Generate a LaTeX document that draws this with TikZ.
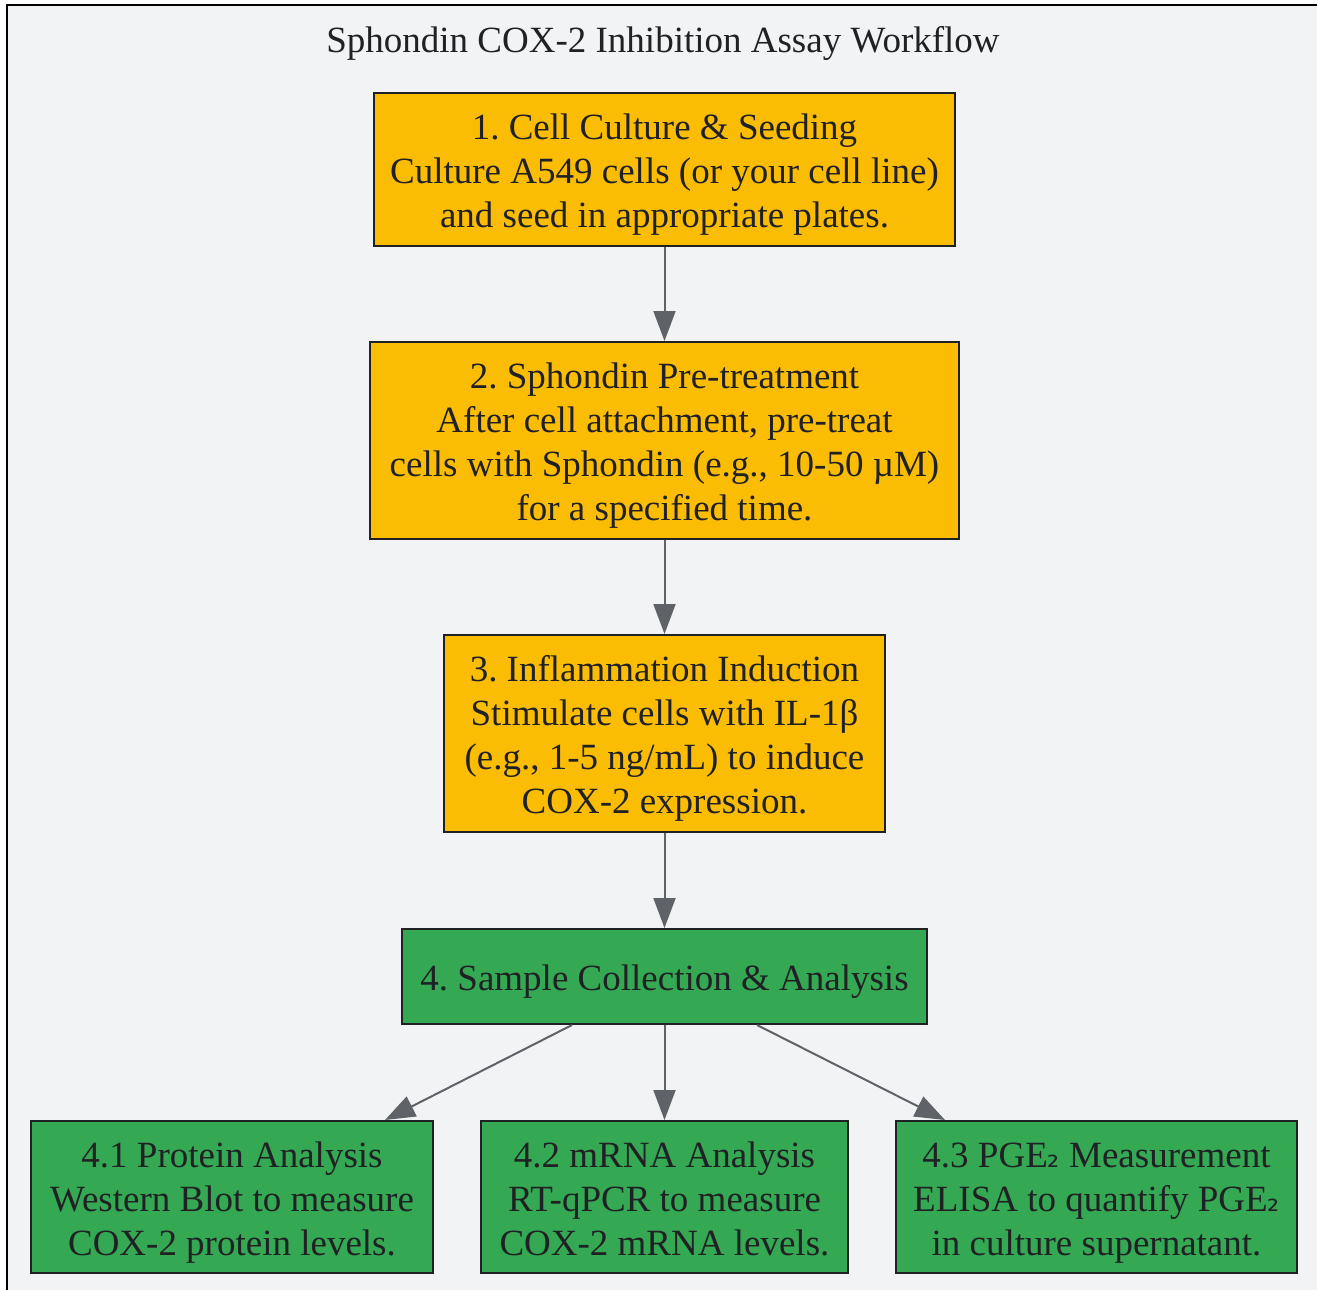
\documentclass[tikz,border=0pt]{standalone}
\usepackage{fontspec}
\setmainfont{Liberation Serif}
\newfontfamily\subfont{DejaVu Sans}
\usetikzlibrary{arrows.meta,calc}
\frenchspacing
\definecolor{bgc}{HTML}{F1F3F4}
\definecolor{txt}{HTML}{202124}
\definecolor{yel}{HTML}{FBBC04}
\definecolor{grn}{HTML}{34A853}
\definecolor{edg}{HTML}{5F6368}
\newcommand{\subtwo}{{\subfont\fontsize{30}{44}\selectfont ₂}}
\tikzset{
  box/.style={draw=txt, line width=2pt, inner sep=0pt},
  ybox/.style={box, fill=yel},
  gbox/.style={box, fill=grn},
  lbl/.style={text=txt, align=center, inner sep=0pt, font=\fontsize{37}{44}\selectfont},
  edge/.style={draw=edg, line width=2pt, -{Triangle[length=30pt,width=22pt]}},
  title/.style={text=txt, font=\fontsize{37}{44}\selectfont, inner sep=0pt}
}
\begin{document}
\begin{tikzpicture}[x=1pt,y=-1pt]
\useasboundingbox (0,0) rectangle (1317,1290);
\clip (0,0) rectangle (1317,1290);
\fill[white] (0,0) rectangle (1317,1290);
\draw[line width=2.5pt, fill=bgc] (7,5) rectangle (1340,1310);
\node[title] (ttl) at (663,43) {Sphondin COX-2 Inhibition Assay Workflow};
\node[ybox, minimum width=581pt, minimum height=153pt] (n1) at (664.5,169.5) {};
\node[lbl] (t1) at ($(n1.center)+(0,5)$)
  {1. Cell Culture \& Seeding\\Culture A549 cells (or your cell line)\\and seed in appropriate plates.};
\node[ybox, minimum width=589pt, minimum height=197pt] (n2) at (664.5,440.5) {};
\node[lbl] (t2) at ($(n2.center)+(0,5)$)
  {2. Sphondin Pre-treatment\\After cell attachment, pre-treat\\cells with Sphondin (e.g., 10-50 µM)\\for a specified time.};
\node[ybox, minimum width=441pt, minimum height=197pt] (n3) at (664.5,733.5) {};
\node[lbl] (t3) at ($(n3.center)+(0,5)$)
  {3. Inflammation Induction\\Stimulate cells with IL-1β\\(e.g., 1-5 ng/mL) to induce\\COX-2 expression.};
\node[gbox, minimum width=525pt, minimum height=95pt] (n4) at (664.5,976.5) {};
\node[lbl] (t4) at ($(n4.center)+(0,5)$) {4. Sample Collection \& Analysis};
\node[gbox, minimum width=402pt, minimum height=152pt] (n41) at (232,1197) {};
\node[lbl] (t41) at ($(n41.center)+(0,6)$)
  {4.1 Protein Analysis\\Western Blot to measure\\COX-2 protein levels.};
\node[gbox, minimum width=367pt, minimum height=152pt] (n42) at (664.5,1197) {};
\node[lbl] (t42) at ($(n42.center)+(0,2)$)
  {4.2 mRNA Analysis\\RT-qPCR to measure\\COX-2 mRNA levels.};
\node[gbox, minimum width=401pt, minimum height=152pt] (n43) at (1096.5,1197) {};
\node[lbl] (t43) at ($(n43.center)+(0,6)$)
  {4.3 PGE\subtwo{} Measurement\\ELISA to quantify PGE\subtwo{}\\in culture supernatant.};
\draw[edge] (n1) -- (n2);
\draw[edge] (n2) -- (n3);
\draw[edge] (n3) -- (n4);
\draw[edge] (n4) -- (n42);
\draw[edge] ($(n4.south)+(-92.5,0)$) -- ($(n41.north)+(153,0)$);
\draw[edge] ($(n4.south)+(92.5,0)$) -- ($(n43.north)+(-151.5,0)$);
\end{tikzpicture}
\end{document}
